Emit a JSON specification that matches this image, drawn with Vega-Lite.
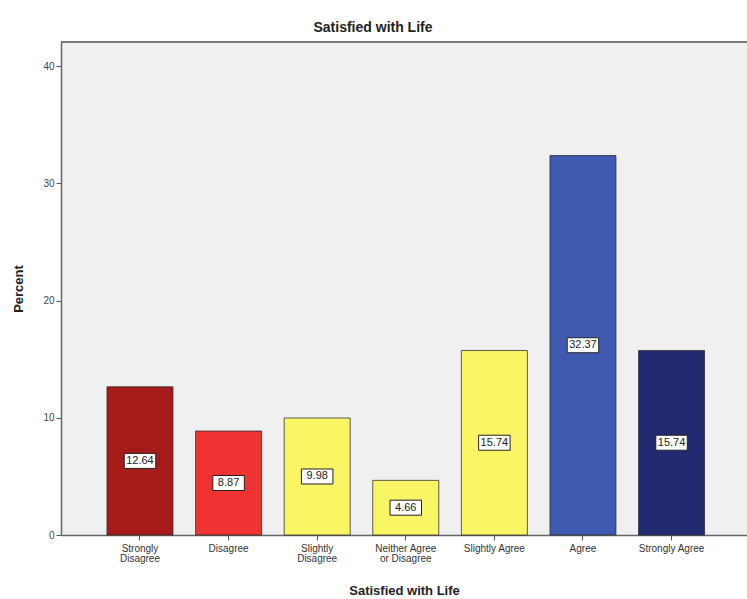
{
  "$schema": "https://vega.github.io/schema/vega-lite/v6.json",
  "width": 686,
  "height": 493,
  "autosize": "none",
  "padding": {"left": 61, "top": 42, "right": 0, "bottom": 64},
  "background": "#ffffff",
  "title": {
    "text": "Satisfied with Life",
    "anchor": "middle",
    "dx": -31,
    "offset": 6,
    "fontSize": 14,
    "fontWeight": "bold",
    "font": "Liberation Sans",
    "color": "#222222"
  },
  "config": {
    "font": "Liberation Sans",
    "view": {"fill": "#f0f0f0", "stroke": null}
  },
  "datasets": {
    "satisfaction": [
      {"response": "Strongly Disagree", "percent": 12.64},
      {"response": "Disagree", "percent": 8.87},
      {"response": "Slightly Disagree", "percent": 9.98},
      {"response": "Neither Agree or Disagree", "percent": 4.66},
      {"response": "Slightly Agree", "percent": 15.74},
      {"response": "Agree", "percent": 32.37},
      {"response": "Strongly Agree", "percent": 15.74}
    ]
  },
  "layer": [
    {
      "data": {"name": "satisfaction"},
      "mark": {"type": "bar", "stroke": "#2a2a2a", "strokeOpacity": 0.75, "strokeWidth": 1},
      "encoding": {
        "x": {
          "field": "response",
          "type": "nominal",
          "sort": null,
          "scale": {"paddingInner": 0.255, "paddingOuter": 0.499, "align": 0.52},
          "axis": {
            "title": "Satisfied with Life",
            "titleFontSize": 13,
            "titleFontWeight": "bold",
            "titleColor": "#222222",
            "titlePadding": 21,
            "labelAngle": 0,
            "labelFontSize": 10,
            "labelColor": "#333333",
            "labelPadding": 3,
            "labelLineHeight": 10,
            "labelExpr": "datum.value == 'Strongly Disagree' ? ['Strongly', 'Disagree'] : datum.value == 'Slightly Disagree' ? ['Slightly', 'Disagree'] : datum.value == 'Neither Agree or Disagree' ? ['Neither Agree', 'or Disagree'] : datum.value",
            "tickSize": 5,
            "tickColor": "#555555",
            "domainColor": "#666666",
            "domainWidth": 1.5
          }
        },
        "y": {
          "field": "percent",
          "type": "quantitative",
          "scale": {"domain": [0, 42.05], "nice": false, "zero": true},
          "axis": {
            "title": "Percent",
            "titleFontSize": 13,
            "titleFontWeight": "bold",
            "titleColor": "#222222",
            "titlePadding": 17,
            "values": [0, 10, 20, 30, 40],
            "labelFontSize": 10,
            "labelColor": "#444444",
            "labelPadding": 2,
            "tickSize": 5,
            "tickColor": "#555555",
            "domainColor": "#666666",
            "domainWidth": 1.5,
            "grid": false
          }
        },
        "color": {
          "field": "response",
          "type": "nominal",
          "legend": null,
          "scale": {
            "domain": ["Strongly Disagree", "Disagree", "Slightly Disagree", "Neither Agree or Disagree", "Slightly Agree", "Agree", "Strongly Agree"],
            "range": ["#a61a1a", "#ef3333", "#f9f565", "#f9f565", "#f9f565", "#3d5ab0", "#242a72"]
          }
        }
      }
    },
    {
      "data": {"values": [{"top": 42.05}]},
      "mark": {"type": "rule", "color": "#7a7a7a", "strokeWidth": 2},
      "encoding": {
        "y": {"field": "top", "type": "quantitative", "scale": {"domain": [0, 42.05], "nice": false}, "axis": null}
      }
    },
    {
      "data": {"name": "satisfaction"},
      "mark": {
        "type": "point",
        "shape": "M-1.05,-0.5H1.05V0.5H-1.05Z",
        "size": 900,
        "filled": true,
        "fill": "#ffffff",
        "stroke": "#222222",
        "strokeWidth": 1,
        "opacity": 1
      },
      "encoding": {
        "x": {"field": "response", "type": "nominal", "sort": null},
        "y": {"field": "percent", "type": "quantitative", "scale": {"domain": [0, 84.1], "nice": false}, "axis": null}
      }
    },
    {
      "data": {"name": "satisfaction"},
      "mark": {"type": "text", "fontSize": 11, "color": "#222222", "baseline": "middle", "align": "center"},
      "encoding": {
        "x": {"field": "response", "type": "nominal", "sort": null},
        "y": {"field": "percent", "type": "quantitative", "scale": {"domain": [0, 84.1], "nice": false}, "axis": null},
        "text": {"field": "percent", "type": "quantitative", "format": ".2f"}
      }
    }
  ],
  "resolve": {"scale": {"y": "independent", "color": "independent"}}
}
